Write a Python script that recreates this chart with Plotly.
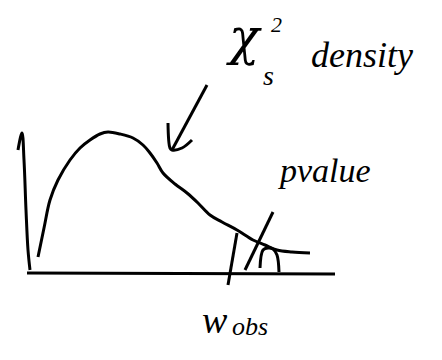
import plotly.graph_objects as go

# Sketch of a chi-square density with the upper-tail p-value marked.
# x: horizontal position, y: height above the baseline
curve_x = [38, 44, 50, 58, 70, 80, 90, 100, 108, 120, 133, 143, 150, 157, 163,
           175, 187, 198, 210, 222, 237, 253, 265, 277, 292, 310]
curve_y = [16, 45, 73, 93, 113, 125, 133, 139, 141, 139, 135, 128, 120, 110, 100,
           89, 80, 70, 58, 51, 43, 33, 28, 23, 21, 20]

yaxis_x = [18, 22, 24, 26, 28, 30]
yaxis_y = [123, 140, 113, 63, 23, 3]

base_x = [27, 335]
base_y = [0, -1]

wobs_x = [237, 228]
wobs_y = [40, -12]

hatch_x = [273, 245]
hatch_y = [61, 3]

hook_x = [260, 263, 268, 273, 277, 279]
hook_y = [5, 23, 25, 24, 18, 1]

arrow_shaft_x = [207, 172]
arrow_shaft_y = [188, 123]
arrow_head_x = [168, 170, 172, 182, 192]
arrow_head_y = [150, 125, 123, 125, 133]

fig = go.Figure()
for xs, ys, shape in [
    (curve_x, curve_y, "spline"),
    (yaxis_x, yaxis_y, "spline"),
    (base_x, base_y, "linear"),
    (wobs_x, wobs_y, "linear"),
    (hatch_x, hatch_y, "linear"),
    (hook_x, hook_y, "spline"),
    (arrow_shaft_x, arrow_shaft_y, "linear"),
    (arrow_head_x, arrow_head_y, "spline"),
]:
    fig.add_trace(go.Scatter(x=xs, y=ys, mode="lines",
                             line=dict(color="black", width=3, shape=shape),
                             hoverinfo="skip", showlegend=False))

hand = "Liberation Serif"
labels = [
    # text, x, y, family, size
    ("χ", 244, 236, "DejaVu Serif", 50),
    ("2", 276, 249, hand, 22),
    ("s", 268, 198, hand, 28),
    ("density", 362, 218, hand, 36),
    ("pvalue", 324, 103, hand, 34),
    ("w", 215, -47, hand, 38),
    ("obs", 250, -53, hand, 26),
]
for text, x, y, family, size in labels:
    fig.add_annotation(x=x, y=y, text=text, showarrow=False,
                       font=dict(family=family, size=size, color="black",
                                 style="italic"))

fig.update_layout(
    width=442, height=360,
    margin=dict(l=0, r=0, t=0, b=0),
    paper_bgcolor="white", plot_bgcolor="white",
    xaxis=dict(range=[0, 442], visible=False, fixedrange=True),
    yaxis=dict(range=[-87, 273], visible=False, fixedrange=True),
)

fig.write_html("out.html")
